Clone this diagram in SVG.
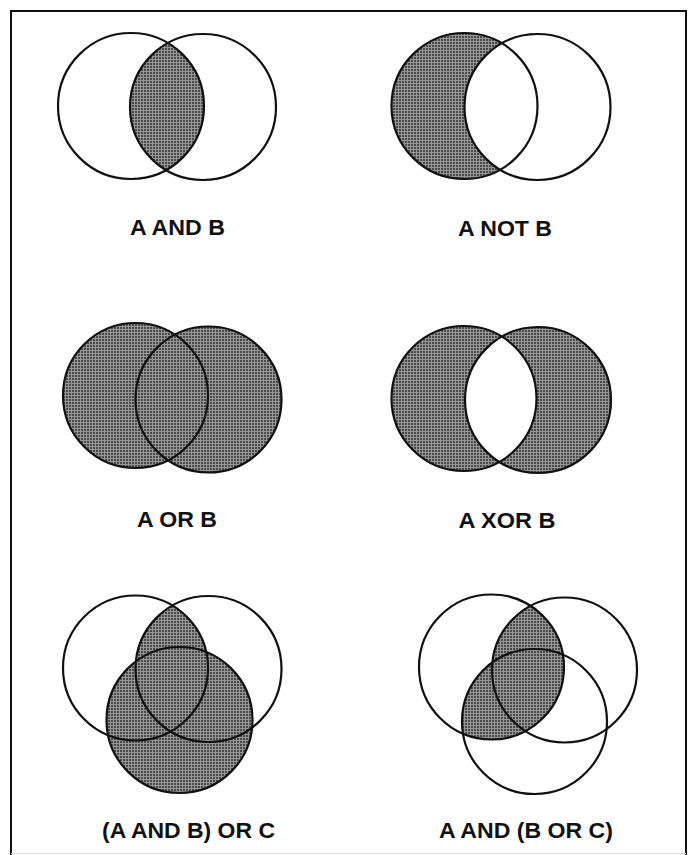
<svg xmlns="http://www.w3.org/2000/svg" width="694" height="855" viewBox="0 0 694 855">
<style>
.ol{fill:none;stroke:#111;stroke-width:2.2}
.bg{fill:#fff}
.sh{fill:url(#dots)}
.lbl{font-family:"Liberation Sans",Arial,sans-serif;font-weight:bold;font-size:22.5px;fill:#111;text-anchor:middle}
</style>
<defs>
<pattern id="dots" width="3" height="3" patternUnits="userSpaceOnUse">
<rect width="3" height="3" fill="#979797"/>
<rect width="2" height="2" fill="#4a4a4a"/>
</pattern>
<clipPath id="c1A"><circle cx="131" cy="106" r="73"/></clipPath>
<clipPath id="c2A"><circle cx="464.5" cy="106" r="73"/></clipPath>
<clipPath id="c5A"><circle cx="135.5" cy="668" r="72.5"/></clipPath>
<clipPath id="c6A"><circle cx="491.5" cy="667" r="72.5"/></clipPath>
</defs>
<rect width="694" height="855" fill="#fff"/>
<g id="frame">
<path d="M11 855 V11 H686 V855" fill="none" stroke="#111" stroke-width="2"/>
<line x1="11" y1="853.5" x2="686" y2="853.5" stroke="#ddd" stroke-width="1"/>
</g>
<g id="and">
<circle class="sh" cx="203" cy="107" r="73" clip-path="url(#c1A)"/>
<circle class="ol" cx="131" cy="106" r="73"/>
<circle class="ol" cx="203" cy="107" r="73"/>
<text class="lbl" x="177.5" y="235" textLength="95" lengthAdjust="spacingAndGlyphs">A AND B</text>
</g>
<g id="not">
<path class="sh" fill-rule="evenodd" clip-path="url(#c2A)" d="M391.5 106 a73 73 0 1 0 146 0 a73 73 0 1 0 -146 0Z M464.5 107 a73 73 0 1 0 146 0 a73 73 0 1 0 -146 0Z"/>
<circle class="ol" cx="464.5" cy="106" r="73"/>
<circle class="ol" cx="537.5" cy="107" r="73"/>
<text class="lbl" x="505" y="236" textLength="94" lengthAdjust="spacingAndGlyphs">A NOT B</text>
</g>
<g id="or">
<circle class="sh" cx="135.5" cy="395.5" r="72.5"/>
<circle class="sh" cx="208.5" cy="399.5" r="73"/>
<circle class="ol" cx="135.5" cy="395.5" r="72.5"/>
<circle class="ol" cx="208.5" cy="399.5" r="73"/>
<text class="lbl" x="177" y="527" textLength="80" lengthAdjust="spacingAndGlyphs">A OR B</text>
</g>
<g id="xor">
<path class="sh" fill-rule="evenodd" d="M391.5 398.5 a72.5 72.5 0 1 0 145 0 a72.5 72.5 0 1 0 -145 0Z M465 400 a73 73 0 1 0 146 0 a73 73 0 1 0 -146 0Z"/>
<circle class="ol" cx="464" cy="398.5" r="72.5"/>
<circle class="ol" cx="538" cy="400" r="73"/>
<text class="lbl" x="507" y="528" textLength="97" lengthAdjust="spacingAndGlyphs">A XOR B</text>
</g>
<g id="andorc">
<circle class="sh" cx="179.5" cy="720" r="73"/>
<circle class="sh" cx="208.5" cy="669" r="73" clip-path="url(#c5A)"/>
<circle class="ol" cx="135.5" cy="668" r="72.5"/>
<circle class="ol" cx="208.5" cy="669" r="73"/>
<circle class="ol" cx="179.5" cy="720" r="73"/>
<text class="lbl" x="188.5" y="838" textLength="173" lengthAdjust="spacingAndGlyphs">(A AND B) OR C</text>
</g>
<g id="andbor">
<circle class="sh" cx="564.5" cy="670" r="72.5" clip-path="url(#c6A)"/>
<circle class="sh" cx="534.5" cy="721.5" r="72.5" clip-path="url(#c6A)"/>
<circle class="ol" cx="491.5" cy="667" r="72.5"/>
<circle class="ol" cx="564.5" cy="670" r="72.5"/>
<circle class="ol" cx="534.5" cy="721.5" r="72.5"/>
<text class="lbl" x="526" y="838" textLength="174" lengthAdjust="spacingAndGlyphs">A AND (B OR C)</text>
</g>
</svg>
